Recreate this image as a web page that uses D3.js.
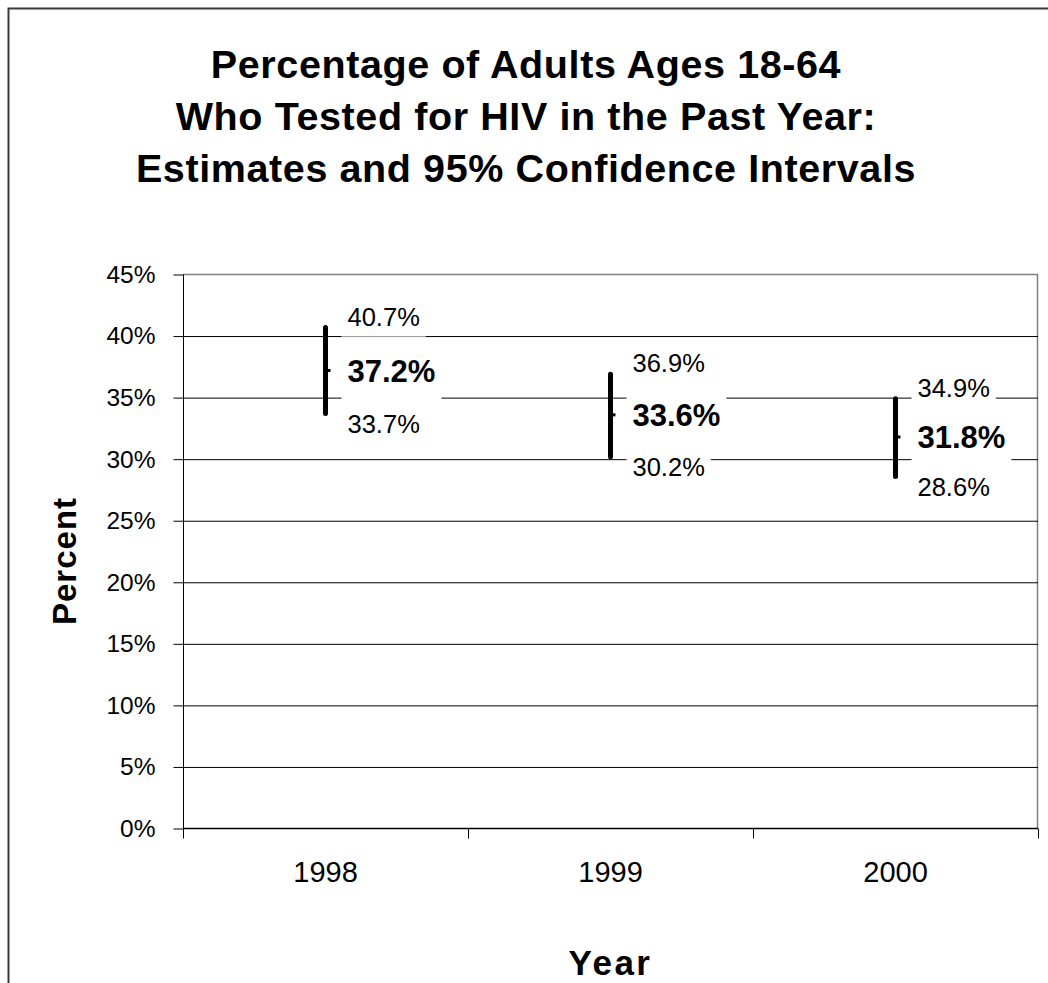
<!DOCTYPE html>
<html>
<head>
<meta charset="utf-8">
<script src="https://cdn.jsdelivr.net/npm/d3@7"></script>
<style>
  body { margin: 0; background: #fff; }
  svg { display: block; font-family: "Liberation Sans", Arial, sans-serif; }
</style>
</head>
<body>
<svg id="chart" width="1048" height="983"></svg>
<script>
//  data
const years = ["1998", "1999", "2000"];
const estimate = [0.372, 0.336, 0.318];
const upper = [0.407, 0.369, 0.349];
const lower = [0.337, 0.302, 0.286];
const yTicks = [0, 0.05, 0.10, 0.15, 0.20, 0.25, 0.30, 0.35, 0.40, 0.45];
const titleLines = [
  "Percentage of Adults Ages 18-64",
  "Who Tested for HIV in the Past Year:",
  "Estimates and 95% Confidence Intervals"
];

//  draw
function draw_chart() {
  const margin = ({top: 274, right: 10, bottom: 154, left: 183});
  const W = 1048, H = 983;

  const svg = d3.select("#chart");
  svg.selectAll('*').remove();

  // outer frame (runs off the right and bottom)
  svg.append("rect")
    .attr("x", 8.5).attr("y", 8.5)
    .attr("width", W + 20).attr("height", H + 20)
    .attr("fill", "none").attr("stroke", "#3a3a3a").attr("stroke-width", 2);

  const x = d3.scaleBand().domain(years).range([margin.left, W - margin.right]);
  const y = d3.scaleLinear().domain([0, 0.45]).range([H - margin.bottom - 0.5, margin.top + 0.5]);

  // title
  svg.append("g").selectAll("text")
    .data(titleLines)
    .join("text")
      .attr("x", 526)
      .attr("y", (d, i) => 78 + i * 52)
      .attr("text-anchor", "middle")
      .attr("font-size", 39.5)
      .attr("font-weight", "bold")
      .attr("letter-spacing", 0.6)
      .text(d => d);

  // plot area border (grey, top & right)
  svg.append("path")
    .attr("d", `M${margin.left},${y(0.45)}H${W - margin.right - 0.5}V${y(0)}`)
    .attr("fill", "none").attr("stroke", "#808080").attr("stroke-width", 1.5);

  // gridlines
  svg.append("g")
    .attr("transform", `translate(${margin.left},0)`)
    .call(d3.axisLeft(y).tickValues(yTicks.slice(1, -1))
      .tickSize(-(W - margin.right - margin.left)).tickFormat(""))
    .call(g => g.select(".domain").remove())
    .call(g => g.selectAll("line").attr("stroke", "#000").attr("stroke-width", 1));

  // y axis
  svg.append("g")
    .attr("transform", `translate(${margin.left + 0.5},0)`)
    .call(d3.axisLeft(y).tickValues(yTicks).tickSize(10).tickPadding(18)
      .tickFormat(d3.format(".0%")))
    .call(g => g.select(".domain").attr("d", `M0,${y(0.45)}V${y(0)}`).attr("stroke", "#000"))
    .call(g => g.selectAll("text").attr("font-size", 24.5).attr("fill", "#000")
      .attr("font-family", "Liberation Sans, Arial, sans-serif"));

  // x axis
  const xAxisY = y(0);
  svg.append("g")
    .attr("transform", `translate(0,${xAxisY})`)
    .call(d3.axisBottom(x).tickSize(0).tickPadding(33))
    .call(g => g.select(".domain").attr("d", `M${margin.left},0H${W - margin.right}`)
      .attr("stroke", "#000").attr("stroke-width", 1.5))
    .call(g => g.selectAll("text").attr("font-size", 29).attr("fill", "#000")
      .attr("font-family", "Liberation Sans, Arial, sans-serif"));

  // category boundary ticks
  const bounds = years.map(d => x(d)).concat([x(years[years.length - 1]) + x.bandwidth()]);
  svg.append("g").selectAll("line")
    .data(bounds)
    .join("line")
      .attr("x1", d => Math.round(d) + 0.5).attr("x2", d => Math.round(d) + 0.5)
      .attr("y1", xAxisY).attr("y2", xAxisY + 10)
      .attr("stroke", "#000");

  // axis titles
  svg.append("text")
    .attr("transform", `translate(76,561) rotate(-90)`)
    .attr("text-anchor", "middle")
    .attr("font-size", 33).attr("font-weight", "bold")
    .attr("letter-spacing", 1)
    .text("Percent");

  svg.append("text")
    .attr("x", x("1999") + x.bandwidth() / 2).attr("y", 975)
    .attr("text-anchor", "middle")
    .attr("font-size", 35).attr("font-weight", "bold")
    .attr("letter-spacing", 2.5)
    .text("Year");

  const rows = years.map((d, i) => ({year: d, est: estimate[i], hi: upper[i], lo: lower[i]}));
  const cx = d => x(d.year) + x.bandwidth() / 2;
  const fmt = d3.format(".1%");

  // error bars
  const bars = svg.append("g").selectAll("g").data(rows).join("g");
  bars.append("line")
    .attr("x1", cx).attr("x2", cx)
    .attr("y1", d => y(d.hi)).attr("y2", d => y(d.lo))
    .attr("stroke", "#000").attr("stroke-width", 5).attr("stroke-linecap", "round");
  bars.append("line")
    .attr("x1", cx).attr("x2", d => cx(d) + 5)
    .attr("y1", d => y(d.est)).attr("y2", d => y(d.est))
    .attr("stroke", "#000").attr("stroke-width", 3);

  // labels with white boxes
  const labels = [];
  rows.forEach(d => {
    labels.push({x: cx(d) + 22, y: y(d.hi) - 11, text: fmt(d.hi), bold: false, padY: 6});
    labels.push({x: cx(d) + 22, y: y(d.est), text: fmt(d.est), bold: true, padY: 12});
    labels.push({x: cx(d) + 22, y: y(d.lo) + 10, text: fmt(d.lo), bold: false, padY: 6});
  });
  const lg = svg.append("g");
  labels.forEach(l => {
    const g = lg.append("g");
    const rect = g.append("rect").attr("fill", "#fff");
    const t = g.append("text")
      .attr("x", l.x).attr("y", l.y).attr("dy", "0.36em")
      .attr("font-size", l.bold ? 31 : 25.5)
      .attr("font-weight", l.bold ? "bold" : "normal")
      .text(l.text);
    const b = t.node().getBBox();
    rect.attr("x", b.x - 6).attr("y", b.y - l.padY)
      .attr("width", b.width + 12).attr("height", b.height + 2 * l.padY);
  });
}

draw_chart();
</script>
</body>
</html>
